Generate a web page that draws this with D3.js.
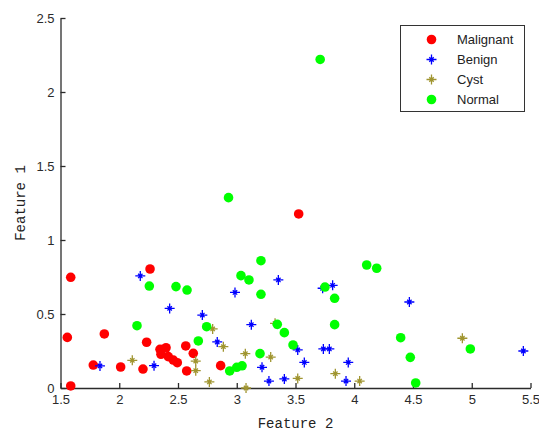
<!DOCTYPE html>
<html>
<head>
<meta charset="utf-8">
<script src="https://cdn.jsdelivr.net/npm/d3@7"></script>
<style>
  html, body { margin: 0; padding: 0; background: #fff; }
  svg { display: block; }
</style>
</head>
<body>
<svg id="chart" width="539" height="432"></svg>
<script>
// ---- data (Feature 2 = x, Feature 1 = y) ----
const seriesNames = ["Malignant", "Benign", "Cyst", "Normal"];
const malignant = [
  [1.587,0.748],[2.262,0.804],[1.558,0.342],[1.873,0.365],[2.233,0.309],
  [1.779,0.155],[2.012,0.142],[2.202,0.128],[1.587,0.014],[2.347,0.261],
  [2.398,0.272],[2.355,0.228],[2.417,0.212],[2.460,0.189],[2.494,0.171],
  [2.566,0.284],[2.630,0.234],[2.574,0.115],[2.863,0.151],[3.527,1.176]
];
const benign = [
  [2.179,0.757],[2.429,0.538],[1.836,0.149],[2.296,0.151],[2.985,0.646],
  [3.354,0.730],[2.707,0.493],[3.124,0.428],[2.834,0.311],[3.215,0.140],
  [3.274,0.047],[3.405,0.061],[3.519,0.257],[3.731,0.674],[3.816,0.694],
  [4.469,0.581],[3.737,0.264],[3.788,0.264],[3.575,0.173],[3.949,0.173],
  [3.930,0.047],[5.439,0.250]
];
const cyst = [
  [2.111,0.187],[2.795,0.399],[2.886,0.279],[2.651,0.182],[2.651,0.117],
  [2.767,0.041],[3.073,0.232],[3.289,0.209],[3.079,0.000],[3.326,0.437],
  [3.519,0.065],[3.839,0.097],[4.046,0.047],[4.920,0.336]
];
const normal = [
  [3.710,2.220],[2.930,1.286],[2.256,0.689],[2.483,0.685],[2.151,0.421],
  [2.577,0.662],[3.036,0.759],[3.104,0.730],[3.206,0.860],[3.206,0.633],
  [2.744,0.414],[2.673,0.318],[3.345,0.430],[3.405,0.374],[3.479,0.291],
  [3.198,0.232],[2.940,0.115],[3.000,0.140],[3.045,0.150],[4.106,0.831],
  [4.191,0.809],[3.751,0.682],[3.833,0.606],[3.833,0.428],[4.395,0.340],
  [4.477,0.207],[4.523,0.034],[4.988,0.264]
];
const xTicks = [1.5, 2, 2.5, 3, 3.5, 4, 4.5, 5, 5.5];
const yTicks = [0, 0.5, 1, 1.5, 2, 2.5];
const xLabel = "Feature 2";
const yLabel = "Feature 1";

const seriesData = [malignant, benign, cyst, normal];
const colors = ["#ff0000", "#0000ff", "#a09530", "#00ff00"];
const shapes = ["circle", "star", "star", "circle"];

// ---- layout ----
const svg = d3.select("#chart");
const mLeft = 60.5, mRight = 530.5, mTop = 18, mBottom = 388;
const x = d3.scaleLinear().domain([1.5, 5.5]).range([mLeft, mRight]);
const y = d3.scaleLinear().domain([0, 2.5]).range([mBottom, mTop]);
const axisColor = "#2b2b2b";
const fmt = d3.format("~g");

// axes
const gx = svg.append("g").attr("transform", `translate(0,${mBottom})`)
  .call(d3.axisBottom(x).tickValues(xTicks).tickFormat(fmt)
    .tickSizeInner(-5).tickSizeOuter(0).tickPadding(4));
const gy = svg.append("g").attr("transform", `translate(${mLeft},0)`)
  .call(d3.axisLeft(y).tickValues(yTicks).tickFormat(fmt)
    .tickSizeInner(-5).tickSizeOuter(0).tickPadding(6));
[gx, gy].forEach(g => {
  g.select(".domain").attr("stroke", axisColor).attr("stroke-width", 1.3);
  g.selectAll(".tick line").attr("stroke", axisColor).attr("stroke-width", 1.3);
  g.selectAll(".tick text").attr("fill", "#2a2a2a")
    .style("font-family", "'Liberation Sans', Arial, sans-serif")
    .style("font-size", "13px");
});
gx.selectAll(".tick text").attr("dy", "0.95em");

// axis labels
svg.append("text").attr("x", (mLeft + mRight) / 2).attr("y", 428)
  .attr("text-anchor", "middle")
  .style("font-family", "'Liberation Mono', 'Courier New', monospace")
  .style("font-size", "14px").attr("fill", "#222").text(xLabel);
svg.append("text")
  .attr("transform", `translate(20,${(mTop + mBottom) / 2}) rotate(-90)`)
  .attr("text-anchor", "middle").attr("dy", "0.35em")
  .style("font-family", "'Liberation Mono', 'Courier New', monospace")
  .style("font-size", "14px").attr("fill", "#222").text(yLabel);

// marker drawing
function drawMarker(g, shape, color, cx, cy) {
  if (shape === "circle") {
    g.append("circle").attr("cx", cx).attr("cy", cy).attr("r", 4.8).attr("fill", color);
  } else {
    const a = 5, d = 2.2;
    const p = `M${cx - a},${cy}L${cx + a},${cy}M${cx},${cy - a}L${cx},${cy + a}` +
      `M${cx - d},${cy - d}L${cx + d},${cy + d}M${cx - d},${cy + d}L${cx + d},${cy - d}`;
    g.append("path").attr("d", p).attr("stroke", color).attr("stroke-width", 1.3)
      .attr("fill", "none");
  }
}

// points
seriesData.forEach((data, i) => {
  const g = svg.append("g").attr("class", "series-" + seriesNames[i]);
  data.forEach(d => drawMarker(g, shapes[i], colors[i], x(d[0]), y(d[1])));
});

// legend
const lg = svg.append("g");
lg.append("rect").attr("x", 400.5).attr("y", 25.5).attr("width", 124).attr("height", 86)
  .attr("fill", "#fff").attr("stroke", "#333").attr("stroke-width", 1);
seriesNames.forEach((name, i) => {
  const ly = 39.5 + i * 20;
  drawMarker(lg, shapes[i], colors[i], 431.5, ly);
  lg.append("text").attr("x", 457).attr("y", ly).attr("dy", "0.35em")
    .style("font-family", "'Liberation Sans', Arial, sans-serif")
    .style("font-size", "13px").attr("fill", "#222").text(name);
});
</script>
</body>
</html>
